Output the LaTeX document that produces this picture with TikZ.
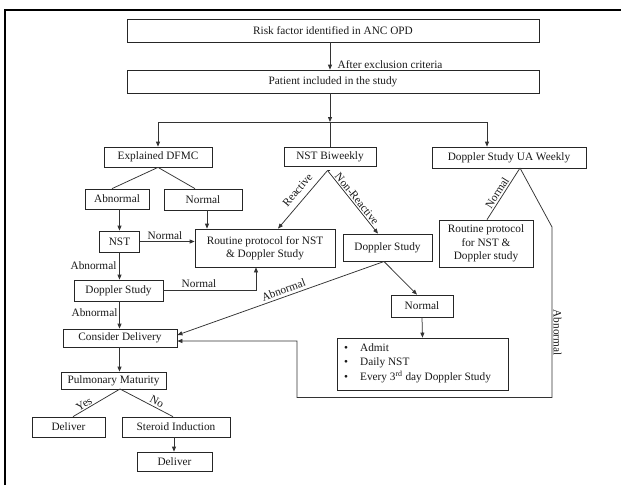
\documentclass[tikz,border=0pt]{standalone}
\usepackage{fontspec}
\setmainfont{Liberation Serif}
\usetikzlibrary{arrows.meta}
\begin{document}
\begin{tikzpicture}[x=1pt,y=-1pt,
  every node/.style={font=\fontsize{11.3}{13.5}\selectfont, text=black!90},
  box/.style={draw=black!85, line width=0.75pt, inner sep=1pt, align=center},
  con/.style={draw=black!80, line width=0.75pt},
  arr/.style={con, -{Triangle[length=5pt,width=4pt]}},
  lab/.style={inner sep=0.5pt}
]
\useasboundingbox (0,0) rectangle (621,485);
\fill[white] (0,0) rectangle (621,485);
\draw[line width=2pt] (4.5,485) -- (4.5,9.5) -- (621,9.5);

% boxes
\node[box, minimum width=412pt, minimum height=23pt] (risk) at (333,30.5) {Risk factor identified in ANC OPD};
\node[box, minimum width=412pt, minimum height=23pt] (patient) at (333,81.5) {Patient included in the study};
\node[box, minimum width=108pt, minimum height=20pt] (dfmc) at (158,157) {Explained DFMC};
\node[box, minimum width=92pt, minimum height=19pt] (nstbi) at (330,156.5) {NST Biweekly};
\node[box, minimum width=154pt, minimum height=21pt] (uaw) at (509,157.5) {Doppler Study UA Weekly};
\node[box, minimum width=64pt, minimum height=20pt] (abn) at (117,199) {Abnormal};
\node[box, minimum width=78pt, minimum height=21pt] (nor) at (203,199.5) {Normal};
\node[box, minimum width=40pt, minimum height=21pt] (nst) at (119.5,241.5) {NST};
\node[box, minimum width=140pt, minimum height=38pt] (routine) at (265,248) {Routine protocol for NST\\ \& Doppler Study};
\node[box, minimum width=89pt, minimum height=27pt] (dopm) at (387.5,247.5) {Doppler Study};
\node[box, minimum width=89pt, minimum height=21pt] (dopl) at (118.5,290.5) {Doppler Study};
\node[box, minimum width=94pt, minimum height=47pt] (rout2) at (486,243.5) {Routine protocol\\ for NST \&\\ Doppler study};
\node[box, minimum width=62pt, minimum height=22pt] (normm) at (422,306) {Normal};
\node[box, minimum width=171pt, minimum height=52pt] (bul) at (422.5,364) {};
\node[anchor=west, align=left, inner sep=0pt, font=\fontsize{11.3}{14.5}\selectfont] (bultext) at (344,363)
  {\textbullet\hspace{12pt}Admit\\ \textbullet\hspace{12pt}Daily NST\\ \textbullet\hspace{12pt}Every 3\textsuperscript{rd} day Doppler Study};
\node[box, minimum width=114pt, minimum height=18pt] (consider) at (120,338) {Consider Delivery};
\node[box, minimum width=105pt, minimum height=17pt] (pulm) at (113.5,380.5) {Pulmonary Maturity};
\node[box, minimum width=73pt, minimum height=20pt] (deliv1) at (68.5,427) {Deliver};
\node[box, minimum width=108pt, minimum height=20pt] (steroid) at (176,427) {Steroid Induction};
\node[box, minimum width=75pt, minimum height=19pt] (deliv2) at (174.5,461.5) {Deliver};

% junction coordinates
\coordinate (j) at (330,122);
\coordinate (jl) at (158,122);
\coordinate (jr) at (487,122);
\coordinate (apex) at (327.5,170.5);
\coordinate (dsplit) at (384,261.5);
\coordinate (ua) at (520,168);
\coordinate (b1) at (552,227);
\coordinate (b2) at (552,397.5);
\coordinate (b3) at (297,397.5);
\coordinate (py) at (120,389);

% connectors
\draw[arr] (risk.south -| nstbi) -- (patient.north -| nstbi);
\draw[arr] (patient.south -| j) -- (j);
\draw[con] (j) -- (nstbi.north);
\draw[con] (jl) -- (jr);
\draw[arr] (jl) -- (jl |- dfmc.north);
\draw[arr] (jr) -- (jr |- uaw.north);

\draw[con] (dfmc.south) -- ([xshift=-5pt]abn.north);
\draw[con] (dfmc.south) -- ([xshift=-8pt]nor.north);
\draw[arr] (nst.north |- abn.south) -- (nst.north);
\draw[arr] ([xshift=4pt]nor.south) -- ([xshift=4pt]nor.south |- routine.north);
\draw[arr] (nst.east) -- (nst.east -| routine.west);

\draw[con] ([yshift=-4pt]nstbi.south) -- (apex);
\draw[arr] (apex) -- ([xshift=13pt]routine.north);
\draw[arr] (apex) -- ([xshift=-9.5pt]dopm.north);

\draw[arr] (dopl.east) -| ([xshift=-9pt]routine.south);
\draw[arr] (nst.south) -- (nst.south |- dopl.north);
\draw[arr] (dopl.south -| nst) -- (consider.north -| nst);

\draw[arr] (dsplit) -- ([yshift=3pt]consider.east);
\draw[arr] (dsplit) -- ([xshift=-5pt]normm.north);
\draw[arr] (normm.south) -- (bul.north);

\draw[con] (ua) -- ([xshift=1pt]rout2.north);
\draw[arr] (ua) -- (b1) -- (b2) -- (b3) |- ([yshift=-3pt]consider.east);

\draw[arr] (consider.south -| nst) -- (pulm.north -| nst);
\draw[con] (py) -- ([xshift=4.5pt]deliv1.north);
\draw[con] (py) -- ([xshift=-3pt]steroid.north);
\draw[arr] ([xshift=-2pt]steroid.south) -- ([xshift=-2pt]steroid.south |- deliv2.north);

% labels
\node[lab, anchor=west] (lae) at (337,65) {After exclusion criteria};
\node[lab] (lnst) at (165,235.5) {Normal};
\node[lab] (lab1) at (93.5,266) {Abnormal};
\node[lab] (ldn) at (199,283.5) {Normal};
\node[lab] (lab2) at (94.5,313) {Abnormal};
\node[lab, rotate=50] (lre) at (297.5,190) {Reactive};
\node[lab, rotate=-51] (lnr) at (357,199) {Non-Reactive};
\node[lab, rotate=57.6] (lun) at (497,193) {Normal};
\node[lab, rotate=20] (lab3) at (283.5,290) {Abnormal};
\node[lab, rotate=-90] (lab4) at (557.5,332.5) {Abnormal};
\node[lab, rotate=31] (lyes) at (84,404) {Yes};
\node[lab, rotate=-28] (lno) at (157,402) {No};
\end{tikzpicture}
\end{document}
